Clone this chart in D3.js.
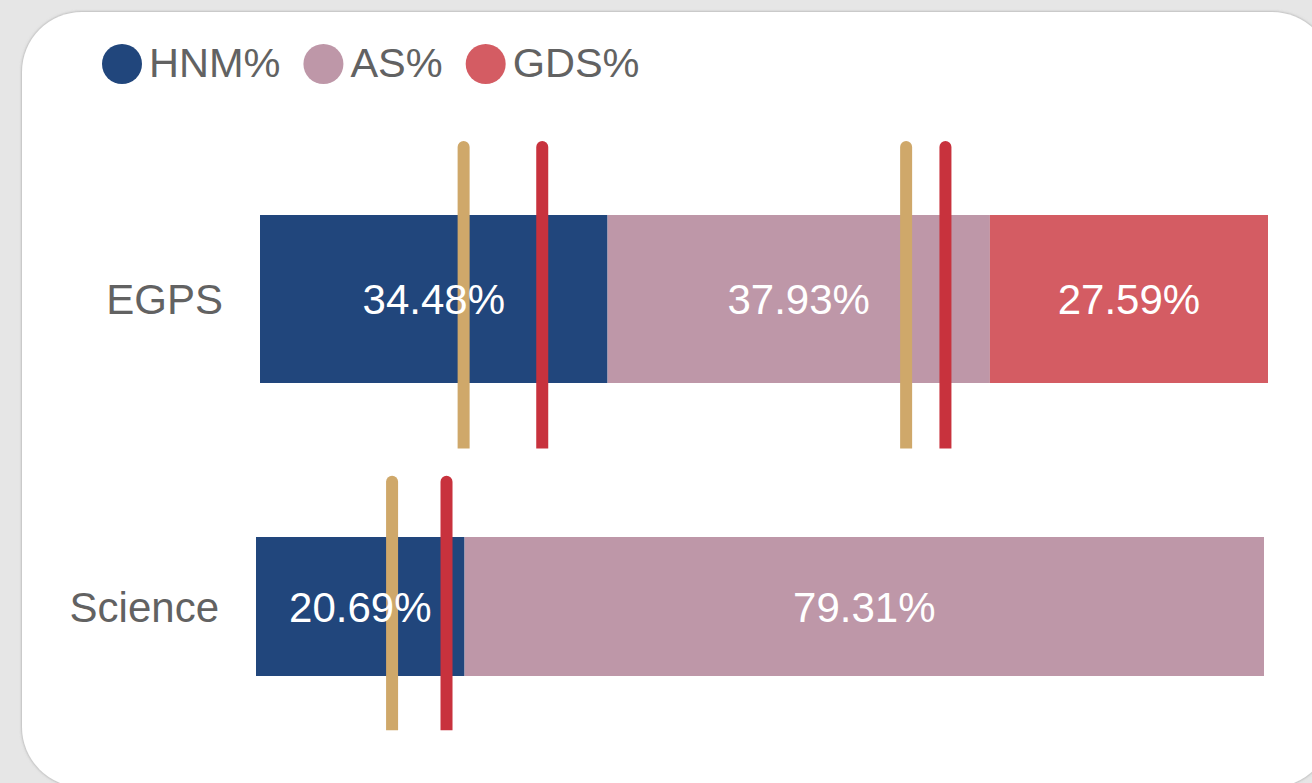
<!DOCTYPE html>
<html>
<head>
<meta charset="utf-8">
<script src="https://cdn.jsdelivr.net/npm/d3@7"></script>
<style>
  body { margin: 0; background: #e6e6e6; }
  svg { display: block; font-family: "Liberation Sans", Arial, sans-serif; }
</style>
</head>
<body>
<script>
// data
var categories = ['EGPS', 'Science'];
var seriesNames = ['HNM%', 'AS%', 'GDS%'];
var hnmValues = [34.48, 20.69];
var asValues = [37.93, 79.31];
var gdsValues = [27.59, 0];
// marker positions (% of the bar) for each row
var tanMarkers = [[20.2, 64.1], [13.5]];
var redMarkers = [[28.0, 68.0], [18.9]];

var colors = ['#21467c', '#be97a8', '#d45c63'];
var tanColor = '#cfa86a';
var redColor = '#c8323d';

var svgWidth = 1312;
var svgHeight = 783;

// per row style: bar thickness and a small horizontal shift
var rowHeights = [168, 139];
var rowShift = [4, 0];

var svg = d3.select('body')
    .append('svg')
    .attr('width', svgWidth)
    .attr('height', svgHeight);

var defs = svg.append('defs');
var shadow = defs.append('filter')
    .attr('id', 'shadow')
    .attr('x', '-5%').attr('y', '-5%')
    .attr('width', '110%').attr('height', '110%');
shadow.append('feDropShadow')
    .attr('dx', 0).attr('dy', 0)
    .attr('stdDeviation', 1.5)
    .attr('flood-color', '#888')
    .attr('flood-opacity', 0.8);

svg.append('rect')
    .attr('width', svgWidth)
    .attr('height', svgHeight)
    .attr('fill', '#e6e6e6');

// card
svg.append('rect')
    .attr('x', 22)
    .attr('y', 12)
    .attr('width', 1310)
    .attr('height', 775)
    .attr('rx', 60)
    .attr('fill', '#fff')
    .attr('filter', 'url(#shadow)');

// stack the series
var rows = categories.map(function(c, i) {
    return { category: c, values: [hnmValues[i], asValues[i], gdsValues[i]], tan: tanMarkers[i], red: redMarkers[i], i: i };
});

var xScale = d3.scaleLinear()
    .domain([0, 100])
    .range([256, 1264]);

var yScale = d3.scalePoint()
    .domain(categories)
    .range([299, 606.5]);

var rowGroups = svg.selectAll('.row')
    .data(rows)
    .enter()
    .append('g')
    .attr('class', 'row')
    .attr('transform', d => `translate(${rowShift[d.i]},0)`);

// segments
rowGroups.each(function(row) {
    var g = d3.select(this);
    var h = rowHeights[row.i];
    var cy = yScale(row.category);
    var segs = [];
    var acc = 0;
    row.values.forEach(function(v, k) {
        segs.push({ start: acc, end: acc + v, value: v, k: k });
        acc += v;
    });
    segs = segs.filter(s => s.value > 0);

    g.selectAll('rect.seg')
        .data(segs)
        .enter()
        .append('rect')
        .attr('class', 'seg')
        .attr('x', s => xScale(s.start))
        .attr('y', cy - h / 2)
        .attr('width', s => xScale(s.end) - xScale(s.start))
        .attr('height', h)
        .attr('fill', s => colors[s.k]);

    // vertical markers, rounded top
    var top = cy - h / 2 - 0.44 * h;
    var bottom = cy + h / 2 + 0.39 * h;
    var marks = row.tan.map(v => ({ v: v, c: tanColor }))
        .concat(row.red.map(v => ({ v: v, c: redColor })));
    g.selectAll('path.marker')
        .data(marks)
        .enter()
        .append('path')
        .attr('class', 'marker')
        .attr('fill', m => m.c)
        .attr('d', function(m) {
            var x = xScale(m.v);
            return `M${x - 6},${bottom} V${top + 6} A6,6 0 0 1 ${x + 6},${top + 6} V${bottom} Z`;
        });

    g.selectAll('text.val')
        .data(segs)
        .enter()
        .append('text')
        .attr('class', 'val')
        .attr('x', s => (xScale(s.start) + xScale(s.end)) / 2)
        .attr('y', cy + 15)
        .attr('text-anchor', 'middle')
        .attr('font-size', '42px')
        .attr('fill', '#fff')
        .text(s => s.value.toFixed(2) + '%');

    g.append('text')
        .attr('x', xScale(0) - 37)
        .attr('y', cy + 15)
        .attr('text-anchor', 'end')
        .attr('font-size', '42px')
        .attr('fill', '#626262')
        .text(row.category);
});

// legend
var legend = svg.append('g');
var lx = 102;
seriesNames.forEach(function(name, k) {
    legend.append('circle')
        .attr('cx', lx + 20)
        .attr('cy', 64)
        .attr('r', 20)
        .attr('fill', colors[k]);
    var t = legend.append('text')
        .attr('x', lx + 47)
        .attr('y', 77)
        .attr('font-size', '41.5px')
        .attr('fill', '#626262')
        .text(name);
    lx += 47 + t.node().getComputedTextLength() + 23;
});
</script>
</body>
</html>
